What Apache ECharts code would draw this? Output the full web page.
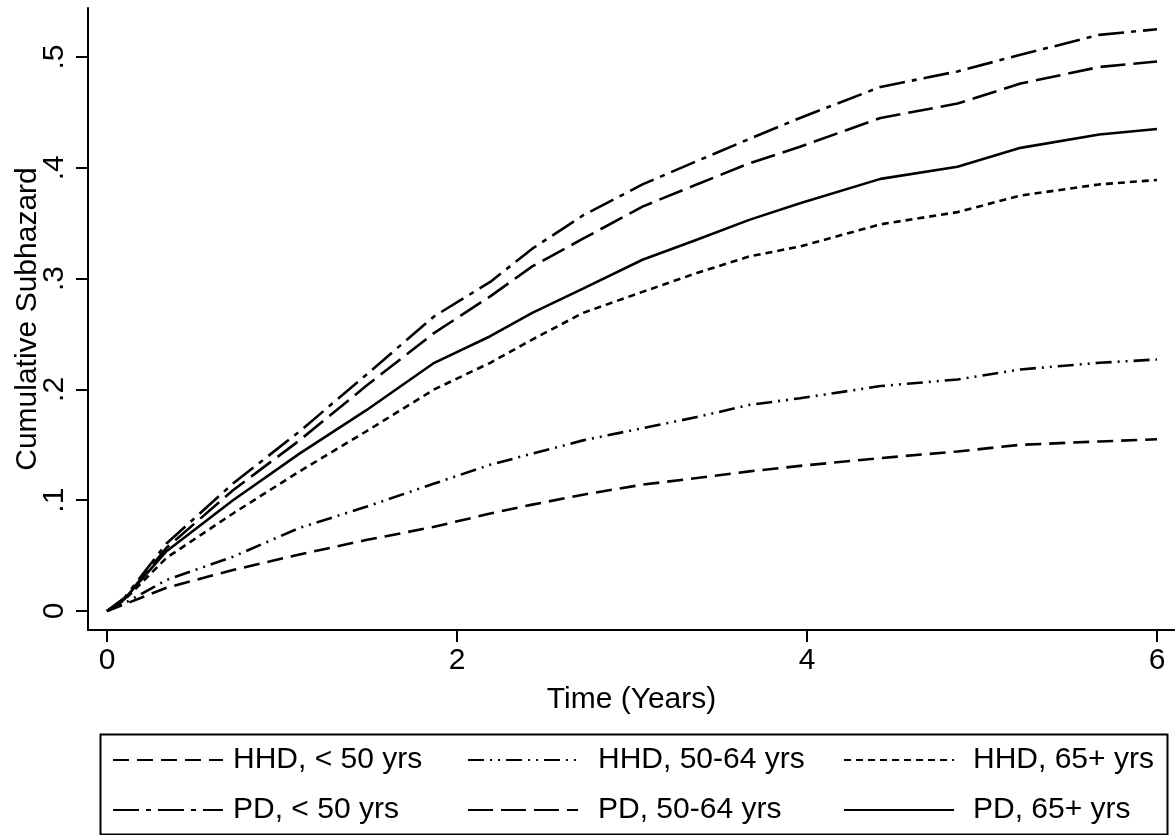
<!DOCTYPE html>
<html>
<head>
<meta charset="utf-8">
<script src="https://cdn.jsdelivr.net/npm/echarts@6/dist/echarts.min.js"></script>
<style>
  html, body { margin: 0; padding: 0; background: #fff; }
  #chart { width: 1175px; height: 835px; }
</style>
</head>
<body>
<div id="chart"></div>
<script>
// ---- Data ----
const timeYears = [0, 0.1, 0.34, 0.72, 1.1, 1.48, 1.87, 2.19, 2.43, 2.72, 3.06, 3.37, 3.67, 3.96, 4.42, 4.86, 5.22, 5.67, 6.0];

const hhdUnder50 = [0, 0.006, 0.021, 0.037, 0.051, 0.064, 0.076, 0.088, 0.096, 0.105, 0.114, 0.120, 0.126, 0.131, 0.138, 0.144, 0.150, 0.153, 0.155];
const hhd50to64  = [0, 0.007, 0.028, 0.049, 0.075, 0.094, 0.115, 0.132, 0.142, 0.154, 0.165, 0.175, 0.186, 0.192, 0.203, 0.209, 0.218, 0.224, 0.227];
const hhd65plus  = [0, 0.010, 0.048, 0.088, 0.126, 0.162, 0.200, 0.224, 0.245, 0.269, 0.288, 0.305, 0.320, 0.329, 0.349, 0.360, 0.375, 0.385, 0.389];
const pdUnder50  = [0, 0.012, 0.061, 0.115, 0.162, 0.213, 0.266, 0.297, 0.327, 0.357, 0.385, 0.406, 0.426, 0.445, 0.473, 0.487, 0.502, 0.520, 0.525];
const pd50to64   = [0, 0.011, 0.057, 0.109, 0.154, 0.203, 0.251, 0.284, 0.311, 0.336, 0.365, 0.385, 0.404, 0.419, 0.445, 0.458, 0.476, 0.491, 0.496];
const pd65plus   = [0, 0.011, 0.054, 0.100, 0.142, 0.181, 0.224, 0.248, 0.269, 0.291, 0.317, 0.335, 0.353, 0.368, 0.390, 0.401, 0.418, 0.430, 0.435];

const seriesNames = ['HHD, < 50 yrs', 'HHD, 50-64 yrs', 'HHD, 65+ yrs', 'PD, < 50 yrs', 'PD, 50-64 yrs', 'PD, 65+ yrs'];
const legendColumns = [
  ['HHD, < 50 yrs', 'PD, < 50 yrs'],
  ['HHD, 50-64 yrs', 'PD, 50-64 yrs'],
  ['HHD, 65+ yrs', 'PD, 65+ yrs']
];
const xTicks = [0, 2, 4, 6];
const yTicks = [0, 0.1, 0.2, 0.3, 0.4, 0.5];
const xTitle = 'Time (Years)';
const yTitle = 'Cumulative Subhazard';

// ---- Styles ----
const FONT = "'Liberation Sans', Arial, Helvetica, sans-serif";
const FS = 30;
const dashes = [
  [16, 8],                 // HHD <50
  [16, 6, 2, 6, 2, 6],     // HHD 50-64
  [7, 5],                  // HHD 65+
  [26, 7, 5, 7],           // PD <50
  [25, 8],                 // PD 50-64
  'solid'                  // PD 65+
];
const valueSets = [hhdUnder50, hhd50to64, hhd65plus, pdUnder50, pd50to64, pd65plus];

const series = seriesNames.map((name, i) => ({
  name: name,
  type: 'line',
  symbol: 'none',
  symbolSize: 0,
  showSymbol: false,
  smooth: false,
  silent: true,
  data: timeYears.map((t, k) => [t, valueSets[i][k]]),
  lineStyle: { color: '#000', width: 2.6, type: dashes[i] },
  itemStyle: { color: '#000' }
}));

const legendLefts = [112, 467, 843];
const legendTextPad = [5, 15, 14];
const legends = legendColumns.map((names, c) => ({
  data: names,
  orient: 'vertical',
  left: legendLefts[c],
  top: 740,
  padding: 0,
  itemGap: 10,
  itemWidth: 110,
  itemHeight: 50,
  selectedMode: false,
  itemStyle: { opacity: 0, borderWidth: 0 },
  formatter: name => '{p|' + name + '}',
  textStyle: {
    fontSize: FS, color: '#000', fontFamily: FONT,
    rich: { p: { padding: [0, 0, 0, legendTextPad[c]], fontSize: FS, color: '#000', fontFamily: FONT } }
  }
}));

const option = {
  backgroundColor: '#fff',
  animation: false,
  grid: { left: 88, right: 0, top: 8, bottom: 205, containLabel: false, outerBoundsMode: 'none' },
  graphic: [{
    type: 'rect',
    left: 98, top: 732,
    shape: { width: 1067, height: 100 },
    style: { fill: 'none', stroke: '#000', lineWidth: 2 },
    silent: true, z: 0
  }],
  xAxis: {
    type: 'value',
    min: -19 / 175,
    max: -19 / 175 + 1087 / 175,
    name: xTitle,
    nameLocation: 'middle',
    nameGap: 55,
    nameMoveOverlap: false,
    nameTextStyle: { fontSize: FS, color: '#000', fontFamily: FONT },
    axisLine: { onZero: false, lineStyle: { color: '#000', width: 2 } },
    axisTick: { show: true, inside: false, length: 12, lineStyle: { color: '#000', width: 2 }, customValues: xTicks },
    axisLabel: { customValues: xTicks, margin: 16, fontSize: FS, color: '#000', fontFamily: FONT },
    splitLine: { show: false }
  },
  yAxis: {
    type: 'value',
    min: -19 / 1108,
    max: -19 / 1108 + 622 / 1108,
    name: yTitle,
    nameLocation: 'middle',
    nameGap: 45,
    nameMoveOverlap: false,
    nameTextStyle: { fontSize: FS, color: '#000', fontFamily: FONT },
    axisLine: { onZero: false, lineStyle: { color: '#000', width: 2 } },
    axisTick: { show: true, inside: false, length: 12, lineStyle: { color: '#000', width: 2 }, customValues: yTicks },
    axisLabel: {
      customValues: yTicks,
      rotate: 90,
      margin: 18,
      fontSize: FS, color: '#000', fontFamily: FONT,
      formatter: v => (Math.abs(v) < 1e-9 ? '0' : String(+v.toFixed(2)).replace(/^0/, ''))
    },
    splitLine: { show: false }
  },
  legend: legends,
  series: series
};

const chart = echarts.init(document.getElementById('chart'), null, { renderer: 'canvas' });
chart.setOption(option);
</script>
</body>
</html>
